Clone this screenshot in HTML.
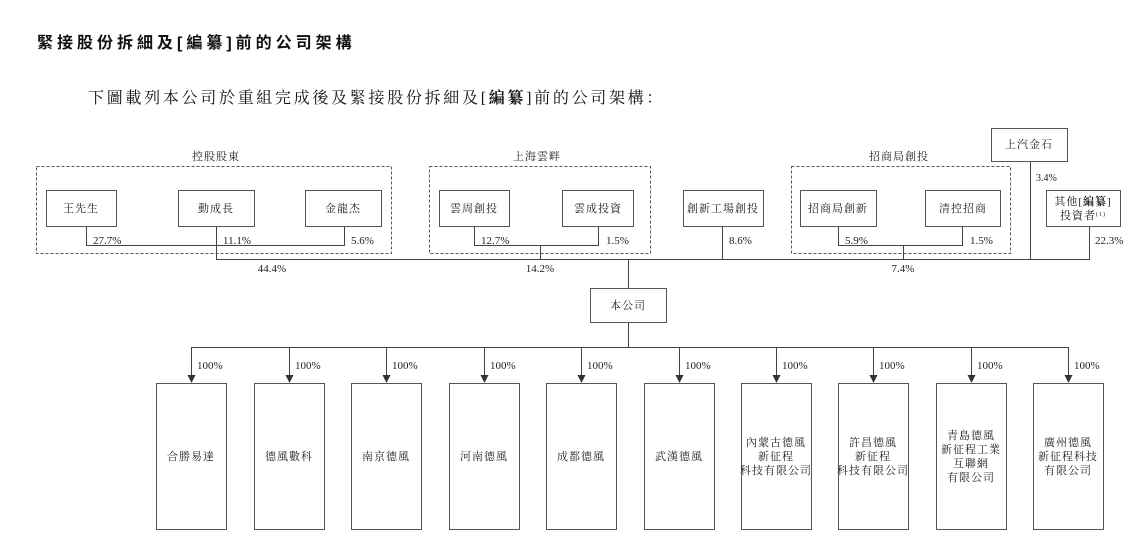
<!DOCTYPE html>
<html><head><meta charset="utf-8"><style>
html,body{margin:0;padding:0;background:#fff;width:1140px;height:540px;overflow:hidden}
svg{display:block}
.t{font-family:"Liberation Serif","Noto Serif CJK SC",serif;font-size:11px;fill:#222}
.c{letter-spacing:1px}
</style></head><body>
<svg width="1140" height="540" xmlns="http://www.w3.org/2000/svg">
<text x="37" y="48" style="font-family:'Liberation Sans','Noto Sans CJK SC',sans-serif;font-size:16px;font-weight:bold;fill:#111;letter-spacing:4px">緊接股份拆細及[編纂]前的公司架構</text>
<text x="88" y="103" style="font-family:'Liberation Serif','Noto Serif CJK SC',serif;font-size:16px;fill:#111;letter-spacing:2.7px">下圖載列本公司於重組完成後及緊接股份拆細及[<tspan font-weight="bold">編纂</tspan>]前的公司架構：</text>
<g fill="none" stroke="#555" stroke-dasharray="3,2" stroke-width="1">
<rect x="36.5" y="166.5" width="355" height="87"/>
<rect x="429.5" y="166.5" width="221" height="87"/>
<rect x="791.5" y="166.5" width="219" height="87"/>
</g>
<g class="t c" text-anchor="middle">
<text x="216" y="160">控股股東</text><text x="537" y="160">上海雲畔</text><text x="899" y="160">招商局創投</text>
</g>
<g fill="#fff" stroke="#555" stroke-width="1">
<rect x="46.5" y="190.5" width="70" height="36"/><rect x="178.5" y="190.5" width="76" height="36"/><rect x="305.5" y="190.5" width="76" height="36"/>
<rect x="439.5" y="190.5" width="70" height="36"/><rect x="562.5" y="190.5" width="71" height="36"/>
<rect x="683.5" y="190.5" width="80" height="36"/>
<rect x="800.5" y="190.5" width="76" height="36"/><rect x="925.5" y="190.5" width="75" height="36"/>
<rect x="991.5" y="128.5" width="76" height="33"/><rect x="1046.5" y="190.5" width="74" height="36"/>
<rect x="590.5" y="288.5" width="76" height="34"/>
</g>
<g stroke="#444" stroke-width="1" fill="none">
<path d="M86.5 227V245.5H344.5V227"/><path d="M216.5 227V259.5"/>
<path d="M474.5 227V245.5H598.5V227"/><path d="M540.5 245V259.5"/>
<path d="M722.5 227V259"/>
<path d="M838.5 227V245.5H962.5V227"/><path d="M903.5 245V259"/>
<path d="M1030.5 162V259"/><path d="M1089.5 227V259"/>
<path d="M216 259.5H1090"/><path d="M628.5 259V288"/><path d="M628.5 323V347.5"/>
<path d="M191 347.5H1069"/>
</g>
<g stroke="#444" stroke-width="1">
<line x1="191.5" y1="347" x2="191.5" y2="377"/><line x1="289.5" y1="347" x2="289.5" y2="377"/>
<line x1="386.5" y1="347" x2="386.5" y2="377"/><line x1="484.5" y1="347" x2="484.5" y2="377"/>
<line x1="581.5" y1="347" x2="581.5" y2="377"/><line x1="679.5" y1="347" x2="679.5" y2="377"/>
<line x1="776.5" y1="347" x2="776.5" y2="377"/><line x1="873.5" y1="347" x2="873.5" y2="377"/>
<line x1="971.5" y1="347" x2="971.5" y2="377"/><line x1="1068.5" y1="347" x2="1068.5" y2="377"/>
</g>
<g fill="#333">
<path d="M187.5 375h8l-4 8z"/><path d="M285.5 375h8l-4 8z"/><path d="M382.5 375h8l-4 8z"/>
<path d="M480.5 375h8l-4 8z"/><path d="M577.5 375h8l-4 8z"/><path d="M675.5 375h8l-4 8z"/>
<path d="M772.5 375h8l-4 8z"/><path d="M869.5 375h8l-4 8z"/><path d="M967.5 375h8l-4 8z"/>
<path d="M1064.5 375h8l-4 8z"/>
</g>
<g fill="#fff" stroke="#555" stroke-width="1">
<rect x="156.5" y="383.5" width="70" height="146"/><rect x="254.5" y="383.5" width="70" height="146"/>
<rect x="351.5" y="383.5" width="70" height="146"/><rect x="449.5" y="383.5" width="70" height="146"/>
<rect x="546.5" y="383.5" width="70" height="146"/><rect x="644.5" y="383.5" width="70" height="146"/>
<rect x="741.5" y="383.5" width="70" height="146"/><rect x="838.5" y="383.5" width="70" height="146"/>
<rect x="936.5" y="383.5" width="70" height="146"/><rect x="1033.5" y="383.5" width="70" height="146"/>
</g>
<g class="t c" text-anchor="middle">
<text x="81" y="212">王先生</text><text x="216" y="212">動成長</text><text x="343" y="212">金龍杰</text>
<text x="474" y="212">雲周創投</text><text x="598" y="212">雲成投資</text>
<text x="723" y="212">創新工場創投</text>
<text x="838" y="212">招商局創新</text><text x="963" y="212">清控招商</text>
<text x="1029" y="148">上汽金石</text>
<text x="1083" y="205">其他[<tspan font-weight="bold">編纂</tspan>]</text><text x="1083" y="219">投資者<tspan font-size="6" dy="-3">(1)</tspan></text>
<text x="628" y="309">本公司</text>
<text x="191" y="460">合勝易達</text><text x="289" y="460">德風數科</text><text x="386" y="460">南京德風</text>
<text x="484" y="460">河南德風</text><text x="581" y="460">成都德風</text><text x="679" y="460">武漢德風</text>
<text x="776" y="446">內蒙古德風</text><text x="776" y="460">新征程</text><text x="776" y="474">科技有限公司</text>
<text x="873" y="446">許昌德風</text><text x="873" y="460">新征程</text><text x="873" y="474">科技有限公司</text>
<text x="971" y="439">青島德風</text><text x="971" y="453">新征程工業</text><text x="971" y="467">互聯網</text><text x="971" y="481">有限公司</text>
<text x="1068" y="446">廣州德風</text><text x="1068" y="460">新征程科技</text><text x="1068" y="474">有限公司</text>
</g>
<g class="t" text-anchor="middle">
<text x="272" y="272">44.4%</text><text x="540" y="272">14.2%</text><text x="903" y="272">7.4%</text>
</g>
<g class="t">
<text x="93" y="244">27.7%</text><text x="223" y="244">11.1%</text><text x="351" y="244">5.6%</text>
<text x="481" y="244">12.7%</text><text x="606" y="244">1.5%</text>
<text x="729" y="244">8.6%</text>
<text x="845" y="244">5.9%</text><text x="970" y="244">1.5%</text>
<text x="1036" y="181" font-size="10">3.4%</text><text x="1095" y="244">22.3%</text>
<text x="197" y="369">100%</text><text x="295" y="369">100%</text><text x="392" y="369">100%</text>
<text x="490" y="369">100%</text><text x="587" y="369">100%</text><text x="685" y="369">100%</text>
<text x="782" y="369">100%</text><text x="879" y="369">100%</text><text x="977" y="369">100%</text>
<text x="1074" y="369">100%</text>
</g>
</svg>
</body></html>
